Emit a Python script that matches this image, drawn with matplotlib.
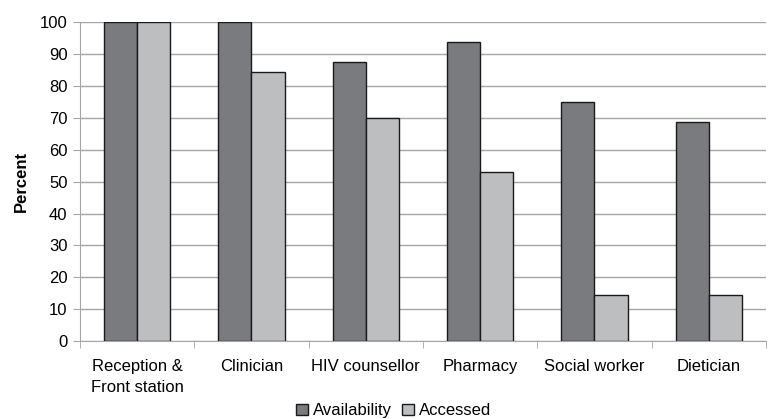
import numpy as np
import matplotlib.pyplot as plt

plt.rcParams['font.family'] = ['Liberation Sans', 'DejaVu Sans']

categories = ["Reception &\nFront station", "Clinician", "HIV counsellor",
              "Pharmacy", "Social worker", "Dietician"]
availability = [100, 100, 87.5, 93.8, 75, 68.8]
accessed = [100, 84.4, 70, 53.1, 14.4, 14.4]

fs = 12

fig = plt.figure(figsize=(7.69, 4.19), dpi=100)
ax = fig.add_axes([0.104, 0.186, 0.892, 0.761])

x = np.arange(len(categories))
w = 0.29
ax.bar(x - w / 2, availability, w, color='#7a7b7f', edgecolor='#1a1a1a',
       linewidth=1, label='Availability', zorder=3)
ax.bar(x + w / 2, accessed, w, color='#bdbec0', edgecolor='#1a1a1a',
       linewidth=1, label='Accessed', zorder=3)

ax.set_xlim(-0.5, len(categories) - 0.5)
ax.set_ylim(0, 100)
ax.set_yticks(range(0, 101, 10))
ax.yaxis.grid(True, color='#a6a6a6', linewidth=1, zorder=0)

ax.set_xticks(x)
ax.set_xticklabels(categories, fontsize=fs, linespacing=1.45)
ax.set_xticks(np.arange(-0.5, len(categories)), minor=True)
ax.tick_params(axis='x', which='major', length=0, pad=13)
ax.tick_params(axis='x', which='minor', length=5, color='#a6a6a6')
ax.tick_params(axis='y', length=5, color='#a6a6a6', labelsize=fs, pad=4)

for s in ['top', 'right']:
    ax.spines[s].set_visible(False)
for s in ['left', 'bottom']:
    ax.spines[s].set_color('#a6a6a6')

ax.set_ylabel('Percent', fontsize=fs, fontweight='bold', labelpad=8)

fig.legend(loc='lower center', bbox_to_anchor=(0.512, -0.022), ncol=2,
           frameon=False, fontsize=fs, handlelength=0.7, handleheight=0.7,
           handletextpad=0.3, columnspacing=0.6, borderpad=0.1)

fig.savefig('out.png', dpi=100)
